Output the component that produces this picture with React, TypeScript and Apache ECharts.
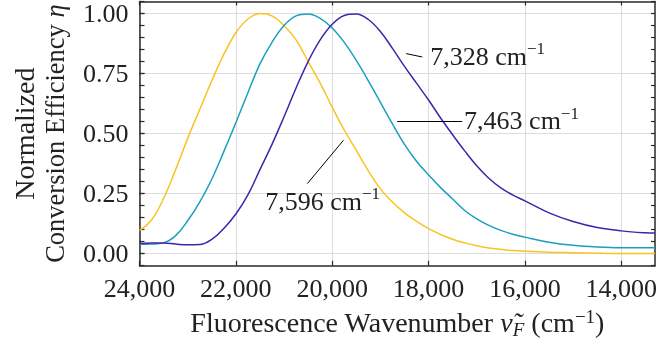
import React, { useEffect, useRef } from 'react';
import * as echarts from 'echarts';

// Fluorescence wavenumber grid (cm^-1)
const wavenumbers = [
  24000, 23750, 23500, 23250, 23000, 22750, 22500, 22250, 22000, 21750,
  21500, 21250, 21000, 20750, 20500, 20250, 20000, 19750, 19500, 19250,
  19000, 18750, 18500, 18250, 18000, 17750, 17500, 17250, 17000, 16750,
  16500, 16250, 16000, 15500, 15000, 14500, 14000, 13500, 13300,
];

// Normalized conversion efficiency for each pump wavenumber
const eff7596 = [
  0.097, 0.14, 0.23, 0.35, 0.48, 0.6, 0.72, 0.83, 0.92, 0.977,
  1.0, 0.99, 0.95, 0.89, 0.8, 0.71, 0.61, 0.515, 0.43, 0.345,
  0.27, 0.215, 0.17, 0.135, 0.104, 0.08, 0.06, 0.045, 0.033, 0.024,
  0.018, 0.013, 0.01, 0.006, 0.004, 0.002, 0.001, 0.001, 0.001,
];
const eff7463 = [
  0.039, 0.04, 0.045, 0.075, 0.137, 0.215, 0.31, 0.425, 0.545, 0.67,
  0.79, 0.88, 0.95, 0.99, 0.998, 0.98, 0.94, 0.88, 0.805, 0.72,
  0.63, 0.54, 0.455, 0.385, 0.328, 0.275, 0.228, 0.18, 0.145, 0.118,
  0.097, 0.081, 0.069, 0.048, 0.035, 0.028, 0.025, 0.025, 0.025,
];
const eff7328 = [
  0.042, 0.044, 0.044, 0.04, 0.037, 0.038, 0.06, 0.105, 0.165, 0.245,
  0.35, 0.455, 0.57, 0.69, 0.8, 0.89, 0.955, 0.992, 0.998, 0.975,
  0.925, 0.855, 0.78, 0.71, 0.64, 0.565, 0.495, 0.428, 0.366, 0.314,
  0.274, 0.244, 0.22, 0.17, 0.134, 0.109, 0.095, 0.087, 0.086,
];

const seriesNames = ['7,596', '7,463', '7,328'];
const seriesColors = ['#F8C420', '#1AA0BE', '#4224AA'];

// Axis ticks
const xTickValues = [24000, 22000, 20000, 18000, 16000, 14000];
const yTickValues = [0, 0.25, 0.5, 0.75, 1.0];
const yMinorTickValues = [
  -0.05, 0, 0.05, 0.1, 0.15, 0.2, 0.25, 0.3, 0.35, 0.4, 0.45, 0.5,
  0.55, 0.6, 0.65, 0.7, 0.75, 0.8, 0.85, 0.9, 0.95, 1.0, 1.05,
];

// Annotation anchors (data coordinates): leader line start, end, and label anchor
const leaderStarts = [[19767, 0.472], [18652, 0.5525], [18465, 0.833]];
const leaderEnds = [[20515, 0.292], [17302, 0.5525], [18133, 0.819]];
const labelAnchors = [[20199, 0.218], [17262, 0.553], [17967, 0.822]];

const FONT = "'Liberation Serif', 'DejaVu Serif', serif";
const TEXT = '#222222';
const AXIS = '#2a2a2a';

const annRich = {
  n: { fontSize: 26, fontFamily: FONT, color: TEXT, lineHeight: 32 },
  s: { fontSize: 17, fontFamily: FONT, color: TEXT, lineHeight: 17, verticalAlign: 'top' },
};

export default function App() {
  const ref = useRef<HTMLDivElement>(null);

  useEffect(() => {
    if (!ref.current) return;
    const chart = echarts.init(ref.current, undefined, { renderer: 'svg' });
    const datasets = [eff7596, eff7463, eff7328];

    const series = datasets.map((vals, i) => ({
      type: 'line',
      name: seriesNames[i],
      data: wavenumbers.map((w, j) => [w, vals[j]]),
      xAxisIndex: 0,
      yAxisIndex: 0,
      smooth: 0.4,
      showSymbol: false,
      symbol: 'none',
      lineStyle: { color: seriesColors[i], width: 1.5 },
      itemStyle: { color: seriesColors[i] },
      z: 3,
      markLine: {
        silent: true,
        symbol: ['none', 'none'],
        label: { show: false },
        lineStyle: { color: '#000', width: 1, type: 'solid' },
        emphasis: { disabled: true },
        data: [[{ coord: leaderStarts[i] }, { coord: leaderEnds[i] }]],
      },
      markPoint: {
        silent: true,
        symbol: 'circle',
        symbolSize: 0,
        itemStyle: { color: 'transparent' },
        data: [
          {
            coord: labelAnchors[i],
            label: {
              show: true,
              position: i === 0 ? 'inside' : 'right',
              distance: 0,
              formatter: `{n|${seriesNames[i]} cm}{s|−1}`,
              rich: annRich,
            },
          },
        ],
      },
    }));

    chart.setOption({
      animation: false,
      grid: {
        left: 139.5,
        right: 3,
        top: 1.5,
        bottom: 83.3,
        containLabel: false,
        outerBoundsMode: 'none',
      },
      xAxis: [
        {
          type: 'value',
          position: 'bottom',
          inverse: true,
          min: 13300,
          max: 24000,
          name: '{n|Fluorescence Wavenumber }{i|ν̃}{sub|F}{n| (cm}{sup|−1}{n|)}',
          nameLocation: 'middle',
          nameGap: 40,
          nameTextStyle: {
            color: TEXT,
            fontFamily: FONT,
            rich: {
              n: { fontSize: 28, fontFamily: FONT, color: TEXT, lineHeight: 32 },
              i: { fontSize: 28, fontFamily: FONT, color: TEXT, fontStyle: 'italic', lineHeight: 32 },
              sub: { fontSize: 19, fontFamily: FONT, color: TEXT, fontStyle: 'italic', lineHeight: 24, verticalAlign: 'bottom' },
              sup: { fontSize: 19, fontFamily: FONT, color: TEXT, lineHeight: 19, verticalAlign: 'top' },
            },
          },
          axisLine: { show: true, onZero: false, lineStyle: { color: AXIS, width: 1.5 } },
          axisTick: { show: true, inside: true, length: 5, customValues: xTickValues, lineStyle: { color: AXIS, width: 1.2 } },
          axisLabel: {
            show: true,
            customValues: xTickValues,
            margin: 10,
            fontSize: 26,
            fontFamily: FONT,
            color: TEXT,
            formatter: (v: number) => v.toLocaleString('en-US'),
          },
          splitLine: { show: true, lineStyle: { color: '#dcdcdc', width: 1 } },
        },
        {
          type: 'value',
          position: 'top',
          inverse: true,
          min: 13300,
          max: 24000,
          axisLine: { show: true, onZero: false, lineStyle: { color: AXIS, width: 1.5 } },
          axisTick: { show: true, inside: true, length: 4, customValues: xTickValues, lineStyle: { color: AXIS, width: 1.2 } },
          axisLabel: { show: false },
          splitLine: { show: false },
        },
      ],
      yAxis: [
        {
          type: 'value',
          position: 'left',
          min: -0.05,
          max: 1.05,
          name: '{n|Normalized}\n{m|Conversion Efficiency }{i|η}',
          nameLocation: 'middle',
          nameRotate: 90,
          nameGap: 69,
          nameTextStyle: {
            color: TEXT,
            fontFamily: FONT,
            rich: {
              n: { fontSize: 28, fontFamily: FONT, color: TEXT, lineHeight: 31 },
              m: { fontSize: 26.5, fontFamily: FONT, color: TEXT, lineHeight: 31 },
              i: { fontSize: 26.5, fontFamily: FONT, color: TEXT, fontStyle: 'italic', lineHeight: 31 },
            },
          },
          axisLine: { show: true, onZero: false, lineStyle: { color: AXIS, width: 1.5 } },
          axisTick: { show: true, inside: true, length: 5, customValues: yTickValues, lineStyle: { color: AXIS, width: 1.2 } },
          axisLabel: {
            show: true,
            customValues: yTickValues,
            margin: 11,
            fontSize: 26,
            fontFamily: FONT,
            color: TEXT,
            formatter: (v: number) => v.toFixed(2),
          },
          splitLine: { show: true, lineStyle: { color: '#dcdcdc', width: 1 } },
        },
        {
          type: 'value',
          position: 'left',
          min: -0.05,
          max: 1.05,
          axisLine: { show: false },
          axisTick: { show: true, inside: true, length: 5, customValues: yMinorTickValues, lineStyle: { color: AXIS, width: 1.2 } },
          axisLabel: { show: false },
          splitLine: { show: false },
        },
        {
          type: 'value',
          position: 'right',
          min: -0.05,
          max: 1.05,
          axisLine: { show: true, onZero: false, lineStyle: { color: AXIS, width: 1.5 } },
          axisTick: { show: true, inside: true, length: 4, customValues: yMinorTickValues, lineStyle: { color: AXIS, width: 1.2 } },
          axisLabel: { show: false },
          splitLine: { show: false },
        },
      ],
      series,
    });

    return () => chart.dispose();
  }, []);

  return (
    <div
      ref={ref}
      style={{ position: 'fixed', left: 0, top: 0, width: 658, height: 349 }}
    />
  );
}
